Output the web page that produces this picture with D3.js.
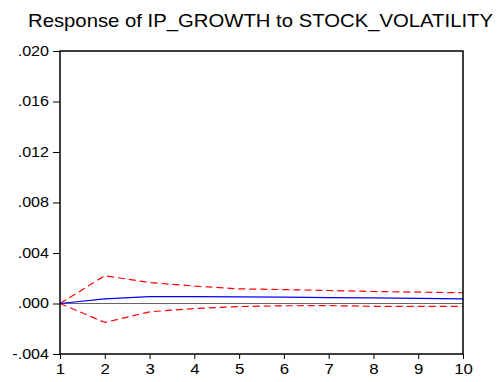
<!DOCTYPE html>
<html>
<head>
<meta charset="utf-8">
<script src="https://cdn.jsdelivr.net/npm/d3@7"></script>
<style>
  body { margin: 0; background: #fff; }
  text { font-family: "Liberation Sans", Arial, sans-serif; fill: #000; }
</style>
</head>
<body>
<svg width="502" height="382"></svg>
<script>
// horizon periods
const periods = [1, 2, 3, 4, 5, 6, 7, 8, 9, 10];
// point response and +/- 2 s.e. bands
const response = [0, 0.00036, 0.00055, 0.00055, 0.00052, 0.0005, 0.00047, 0.00044, 0.0004, 0.00036];
const upper = [0, 0.0022, 0.00166, 0.00138, 0.00116, 0.0011, 0.00103, 0.00095, 0.0009, 0.00085];
const lower = [0, -0.0015, -0.00066, -0.0004, -0.00024, -0.00018, -0.00017, -0.00022, -0.00022, -0.00022];
const yTicks = [-0.004, 0, 0.004, 0.008, 0.012, 0.016, 0.020];

const svg = d3.select("svg");
const plotL = 60, plotR = 463, plotT = 51, plotB = 354;

const x = d3.scaleLinear().domain([1, 10]).range([plotL, plotR]);
const y = d3.scaleLinear().domain([-0.004, 0.020]).range([plotB, plotT]);

const fmt = v => d3.format(".3f")(v).replace("−", "-").replace(/^(-?)0\./, "$1.");

// the original font is a bit wider than Liberation Sans
function widen(sel, k) {
    sel.each(function () {
        const w = this.getComputedTextLength();
        d3.select(this).attr("textLength", w * k).attr("lengthAdjust", "spacingAndGlyphs");
    });
}

// title
svg.append("text")
    .attr("x", 28).attr("y", 27)
    .attr("textLength", 465).attr("lengthAdjust", "spacingAndGlyphs")
    .style("font-size", "18.5px")
    .text("Response of IP_GROWTH to STOCK_VOLATILITY");

// axes
svg.append("g")
    .attr("transform", `translate(${plotL},0)`)
    .call(d3.axisLeft(y).tickValues(yTicks).tickFormat(fmt).tickSize(7).tickPadding(4))
    .call(g => g.select(".domain").remove())
    .call(g => g.selectAll("line").attr("stroke", "#000"))
    .call(g => g.selectAll("text").style("font-size", "14px").attr("font-family", null).call(widen, 1.15));

svg.append("g")
    .attr("transform", `translate(0,${plotB})`)
    .call(d3.axisBottom(x).tickValues(periods).tickFormat(d3.format("d")).tickSize(5).tickPadding(4))
    .call(g => g.select(".domain").remove())
    .call(g => g.selectAll("line").attr("stroke", "#000"))
    .call(g => g.selectAll("text").style("font-size", "15px").attr("font-family", null).call(widen, 1.12));

// zero line
svg.append("line")
    .attr("x1", plotL).attr("x2", plotR)
    .attr("y1", y(0)).attr("y2", y(0))
    .attr("stroke", "#666").attr("stroke-width", 1);

const line = d3.line().x((d, i) => x(periods[i])).y(d => y(d));

svg.append("path").datum(upper)
    .attr("d", line).attr("fill", "none")
    .attr("stroke", "#ff0000").attr("stroke-width", 1.2)
    .attr("stroke-dasharray", "7,4");

svg.append("path").datum(lower)
    .attr("d", line).attr("fill", "none")
    .attr("stroke", "#ff0000").attr("stroke-width", 1.2)
    .attr("stroke-dasharray", "7,4");

svg.append("path").datum(response)
    .attr("d", line).attr("fill", "none")
    .attr("stroke", "#0000ff").attr("stroke-width", 1.2);

// frame
svg.append("rect")
    .attr("x", plotL).attr("y", plotT)
    .attr("width", plotR - plotL).attr("height", plotB - plotT)
    .attr("fill", "none").attr("stroke", "#000").attr("stroke-width", 1.5);
</script>
</body>
</html>
